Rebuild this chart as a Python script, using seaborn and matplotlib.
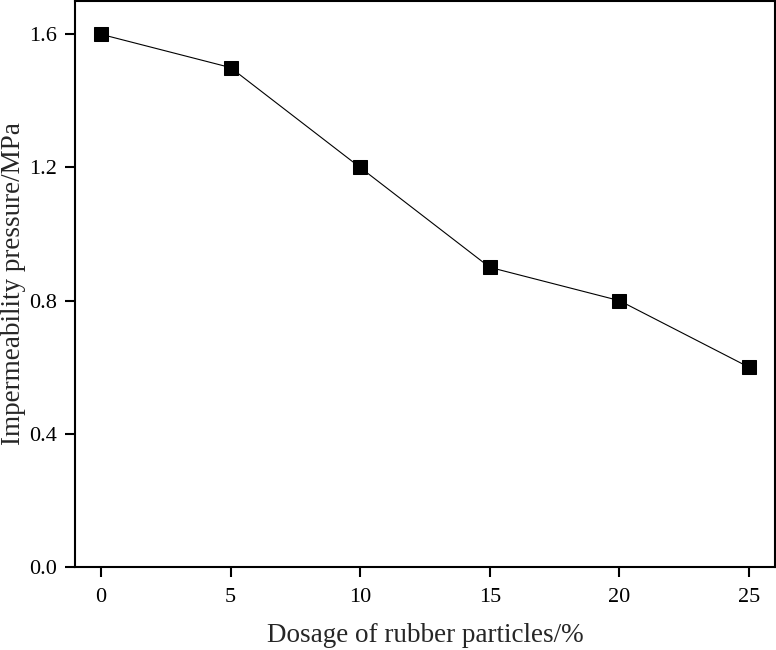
import matplotlib
matplotlib.use("Agg")
import matplotlib.pyplot as plt
import seaborn as sns
import pandas as pd

dosage = [0, 5, 10, 15, 20, 25]
pressure = [1.6, 1.5, 1.2, 0.9, 0.8, 0.6]
xticks = [0, 5, 10, 15, 20, 25]
yticks = [0.0, 0.4, 0.8, 1.2, 1.6]

sns.set_theme(style="ticks")
plt.rcParams['font.family'] = ['Liberation Serif', 'DejaVu Serif']

df = pd.DataFrame({"dosage": dosage, "pressure": pressure})

fig = plt.figure(figsize=(7.76, 6.5), dpi=100)
ax = fig.add_axes([0.0966, 0.1277, 0.902, 0.8708])
sns.lineplot(data=df, x="dosage", y="pressure", ax=ax, color="black",
             linewidth=0.8, marker="s", markersize=9.5, markerfacecolor="black",
             markeredgecolor="black")
ax.set_xlim(-1, 26)
ax.set_ylim(0, 1.7)
ax.set_xticks(xticks)
ax.set_xticklabels([str(v) for v in xticks])
ax.set_yticks(yticks)
ax.set_yticklabels([f"{v:.1f}" for v in yticks])
ax.tick_params(axis="both", direction="out", length=7, width=1.5, labelsize=16, colors="black")
ax.tick_params(axis="x", pad=8)
ax.tick_params(axis="y", pad=6)
for s in ax.spines.values():
    s.set_linewidth(1.5)
    s.set_color("black")
ax.set_xlabel("Dosage of rubber particles/%", fontsize=19.5, labelpad=12)
ax.set_ylabel("Impermeability pressure/MPa", fontsize=19.5, labelpad=2.5)
fig.savefig("out.png", dpi=100)
